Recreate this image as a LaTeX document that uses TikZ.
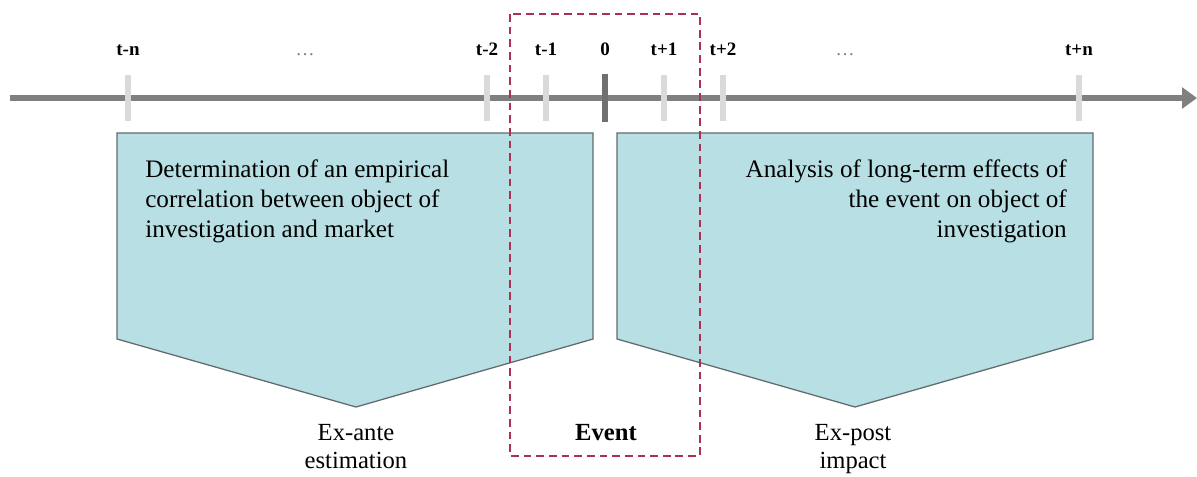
\documentclass[tikz,border=0pt]{standalone}
\usepackage{fontspec}
\setmainfont{Liberation Serif}
\usetikzlibrary{arrows.meta}
\definecolor{boxfill}{HTML}{B8DFE3}
\definecolor{boxline}{HTML}{5F6B6D}
\definecolor{axisgray}{HTML}{808080}
\definecolor{zerogray}{HTML}{707070}
\definecolor{tickgray}{HTML}{DADADA}
\definecolor{eventred}{HTML}{A8324F}
\tikzset{
  phase/.style={fill=boxfill,draw=boxline,line width=0.9pt},
  timetick/.style={tickgray,line width=4.2pt},
  ticklab/.style={font=\fontsize{13.5}{16}\selectfont\bfseries,inner sep=0pt,anchor=base},
  bodytext/.style={font=\fontsize{17.9}{21.3}\selectfont,inner sep=0pt,anchor=base},
  steplab/.style={font=\fontsize{17.5}{19.9}\selectfont,inner sep=0pt,anchor=base,align=center},
}
\begin{document}
\begin{tikzpicture}[x=0.025cm,y=-0.025cm]
            \useasboundingbox(0,0)rectangle(1197,476);
            % time axis
            \draw[axisgray,line width=3.8pt,-{Triangle[length=10.5pt,width=14.5pt]}](10,98)--(1197,98);
            \draw[timetick](128,75)--(128,121);
            \draw[timetick](487,75)--(487,121);
            \draw[timetick](546,75)--(546,121);
            \draw[timetick](664,75)--(664,121);
            \draw[timetick](723,75)--(723,121);
            \draw[timetick](1079,75)--(1079,121);
            \draw[zerogray,line width=4.2pt](605,74)--(605,122);
            \node[ticklab](tn)at(128,55){t-n};
            \node[ticklab,font=\fontsize{13.5}{16}\selectfont,gray](dl)at(305,55){\dots};
            \node[ticklab](tm2)at(487,55){t-2};
            \node[ticklab](tm1)at(546,55){t-1};
            \node[ticklab](t0)at(605,55){0};
            \node[ticklab](tp1)at(664,55){t+1};
            \node[ticklab](tp2)at(723,55){t+2};
            \node[ticklab,font=\fontsize{13.5}{16}\selectfont,gray](dr)at(845,55){\dots};
            \node[ticklab](tpn)at(1079,55){t+n};
            % the two phases
            \draw[phase](117,133)--(593,133)--(593,339)--(356,407)--(117,339)--cycle;
            \draw[phase](617,133)--(1093,133)--(1093,339)--(855,407)--(617,339)--cycle;
            \node[bodytext,anchor=base west,align=left](ante)at(145,237){Determination of an empirical\\correlation between object of\\investigation and market};
            \node[bodytext,anchor=base east,align=right](post)at(1067,237){Analysis of long-term effects of\\the event on object of\\investigation};
            \node[steplab](est)at(356,468){Ex-ante\\estimation};
            \node[steplab,font=\fontsize{17.5}{19.9}\selectfont\bfseries](ev)at(606,440){Event};
            \node[steplab](imp)at(853,468){Ex-post\\impact};
            % event window
            \draw[eventred,line width=1.4pt,dash pattern=on 5.5pt off 3.5pt](510,14)rectangle(700,456);
        \end{tikzpicture}
\end{document}
